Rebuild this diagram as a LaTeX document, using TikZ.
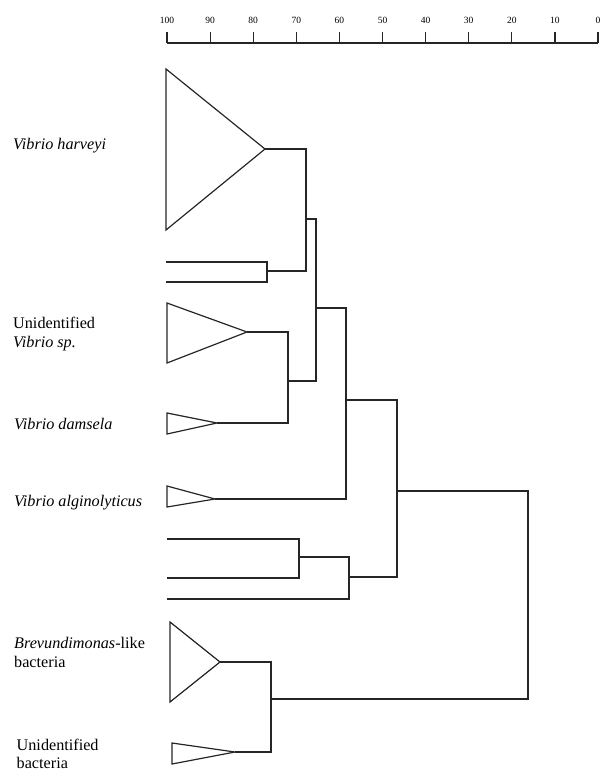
\documentclass[tikz,border=0pt]{standalone}
\usepackage{fontspec}
\setmainfont{Liberation Serif}
\begin{document}
\begin{tikzpicture}[x=1pt,y=-1pt,
  tree/.style={draw=black!85,line width=1.2pt,line join=miter},
  lab/.style={anchor=west,inner sep=0pt,align=left,font=\fontsize{16.2}{18.5}\selectfont},
  ticklab/.style={inner sep=0pt,font=\fontsize{9.5}{10}\selectfont}]
\useasboundingbox (0,0) rectangle (603,771);
% scale axis
\coordinate (ax100) at (167,43);
\coordinate (ax0) at (598,43);
\draw[tree] (ax100) -- (ax0);
\foreach \v in {0,10,...,100}{
  \coordinate (t\v) at ({598-4.31*\v},43);
  \draw[tree] (t\v) -- ++(0,-11);
  \node[ticklab] (tl\v) at ({598-4.31*\v},20) {\v};
}
% triangles (collapsed clusters)
\coordinate (hA) at (265,149);
\draw[tree] (166,69) -- (166,230) -- (hA) -- cycle;
\coordinate (sA) at (247,332);
\draw[tree] (167,303) -- (167,363) -- (sA) -- cycle;
\coordinate (dA) at (217,423);
\draw[tree] (167,413) -- (167,434) -- (dA) -- cycle;
\coordinate (aA) at (215,499);
\draw[tree] (167,486) -- (167,507) -- (aA) -- cycle;
\coordinate (bA) at (220,662);
\draw[tree] (170,622) -- (170,702) -- (bA) -- cycle;
\coordinate (uA) at (235,752);
\draw[tree] (172,743) -- (172,764) -- (uA) -- cycle;
% single leaves
\coordinate (l1) at (166,262);
\coordinate (l2) at (166,282);
\coordinate (m1) at (167,539);
\coordinate (m2) at (167,578);
\coordinate (m3) at (167,599);
% internal nodes
\coordinate (n1) at (267,271);
\coordinate (n2) at (306,219);
\coordinate (n3) at (288,381);
\coordinate (n4) at (316,308);
\coordinate (n5) at (346,400);
\coordinate (n6) at (299,557);
\coordinate (n7) at (349,577);
\coordinate (n8) at (397,491);
\coordinate (n9) at (271,699);
\coordinate (n10) at (528,595);
% connectors
\draw[tree] (l1) -| (n1) |- (l2);
\draw[tree] (hA) -| (n2) |- (n1);
\draw[tree] (sA) -| (n3) |- (dA);
\draw[tree] (n2) -| (n4) |- (n3);
\draw[tree] (n4) -| (n5) |- (aA);
\draw[tree] (m1) -| (n6) |- (m2);
\draw[tree] (n6) -| (n7) |- (m3);
\draw[tree] (n5) -| (n8) |- (n7);
\draw[tree] (bA) -| (n9) |- (uA);
\draw[tree] (n8) -| (n10) |- (n9);
% labels
\node[lab] (vh) at (13,146) {\itshape Vibrio harveyi};
\node[lab] (vs) at (13,334) {Unidentified\\\itshape Vibrio sp.};
\node[lab] (vd) at (14,424) {\itshape Vibrio damsela};
\node[lab] (va) at (14,503) {\itshape Vibrio alginolyticus};
\node[lab] (br) at (14,652.5) {\textit{Brevundimonas}-like\\bacteria};
\node[lab] (ub) at (16.5,754) {Unidentified\\bacteria};
\end{tikzpicture}
\end{document}
